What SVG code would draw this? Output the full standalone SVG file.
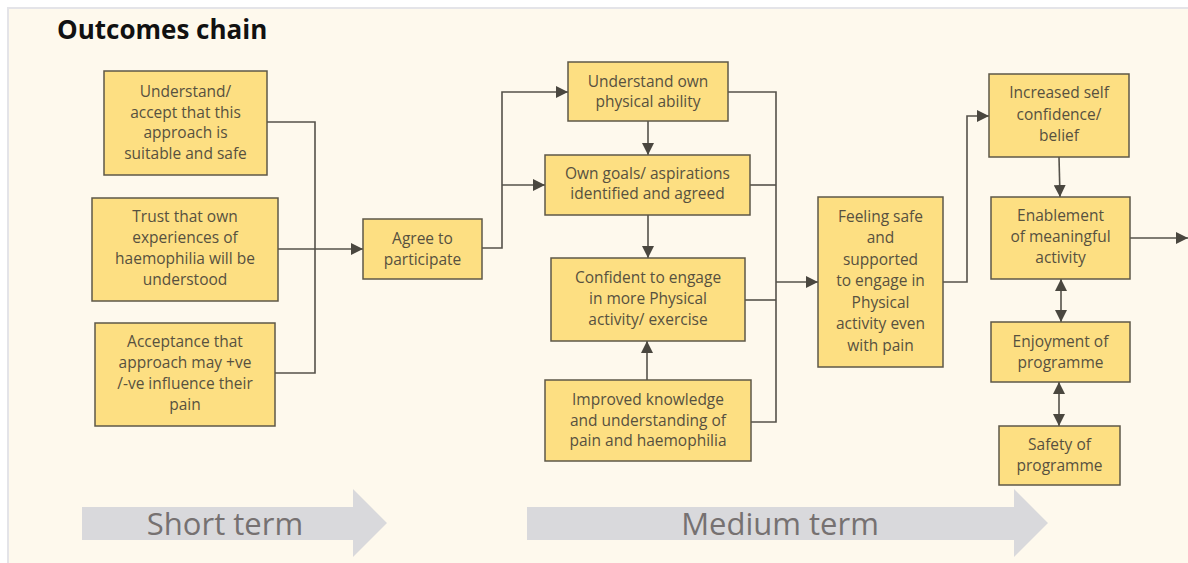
<svg xmlns="http://www.w3.org/2000/svg" width="1188" height="563" viewBox="0 0 1188 563">
  <style>
    .box { fill: #fddf82; stroke: #5e5848; stroke-width: 1.5; }
    .lbl { font-family: "Open Sans", "Liberation Sans", sans-serif; font-size: 15.5px; fill: #57513f; text-anchor: middle; }
    .wire { fill: none; stroke: #55524a; stroke-width: 1.6; }
    .band { fill: #d9d9dc; }
    .band-txt { font-family: "Open Sans", "Liberation Sans", sans-serif; font-size: 31px; fill: #767171; text-anchor: middle; }
    .title { font-family: "Open Sans", "Liberation Sans", sans-serif; font-size: 26px; font-weight: bold; fill: #111; }
  </style>
  <defs>
    <marker id="head" viewBox="0 0 10 10" refX="10" refY="5" markerWidth="12" markerHeight="12" markerUnits="userSpaceOnUse" orient="auto-start-reverse">
      <path d="M0,0 L10,5 L0,10 z" fill="#4a473f"/>
    </marker>
  </defs>

  <!-- background panel -->
  <rect x="0" y="0" width="1188" height="563" fill="#ffffff"/>
  <rect x="8" y="8" width="1190" height="570" fill="#fef9ed" stroke="#e4e4e8" stroke-width="2"/>

  <text class="title" x="57" y="39">Outcomes chain</text>

  <!-- timeline bands -->
  <g id="band-short">
    <path class="band" d="M82,507 H353 V489 L387,523 L353,557 V540 H82 z"/>
    <text class="band-txt" x="225" y="535">Short term</text>
  </g>
  <g id="band-medium">
    <path class="band" d="M527,507 H1014 V489 L1048,523 L1014,557 V540 H527 z"/>
    <text class="band-txt" x="780" y="535">Medium term</text>
  </g>

  <!-- connectors -->
  <g id="connectors">
    <path class="wire" d="M267,122 H315 V373 H275"/>
    <path class="wire" d="M278,249 H363" marker-end="url(#head)"/>
    <path class="wire" d="M482,248 H502 V92 H568" marker-end="url(#head)"/>
    <path class="wire" d="M502,185 H545" marker-end="url(#head)"/>
    <path class="wire" d="M648,121 V155" marker-end="url(#head)"/>
    <path class="wire" d="M648,215 V258" marker-end="url(#head)"/>
    <path class="wire" d="M647,380 V341" marker-end="url(#head)"/>
    <path class="wire" d="M728,92 H776 V422 H751"/>
    <path class="wire" d="M750,185 H776"/>
    <path class="wire" d="M745,300 H776"/>
    <path class="wire" d="M776,282 H818" marker-end="url(#head)"/>
    <path class="wire" d="M943,282 H967 V116 H989" marker-end="url(#head)"/>
    <path class="wire" d="M1059,157 L1060,197" marker-end="url(#head)"/>
    <path class="wire" d="M1130,238 H1188" marker-end="url(#head)"/>
    <path class="wire" d="M1061,279 V322" marker-start="url(#head)" marker-end="url(#head)"/>
    <path class="wire" d="M1059,382 V426" marker-start="url(#head)" marker-end="url(#head)"/>
  </g>

  <!-- short-term outcomes -->
  <g id="understand-accept">
    <rect class="box" x="104" y="71" width="163" height="104"/>
    <text class="lbl" x="185.5" y="97">Understand/</text>
    <text class="lbl" x="185.5" y="118">accept that this</text>
    <text class="lbl" x="185.5" y="138">approach is</text>
    <text class="lbl" x="185.5" y="159">suitable and safe</text>
  </g>
  <g id="trust">
    <rect class="box" x="92" y="198" width="186" height="103"/>
    <text class="lbl" x="185" y="222">Trust that own</text>
    <text class="lbl" x="185" y="243">experiences of</text>
    <text class="lbl" x="185" y="264">haemophilia will be</text>
    <text class="lbl" x="185" y="285">understood</text>
  </g>
  <g id="acceptance">
    <rect class="box" x="95" y="323" width="180" height="103"/>
    <text class="lbl" x="185" y="347">Acceptance that</text>
    <text class="lbl" x="185" y="368">approach may +ve</text>
    <text class="lbl" x="185" y="389">/-ve influence their</text>
    <text class="lbl" x="185" y="410">pain</text>
  </g>
  <g id="agree">
    <rect class="box" x="363" y="219" width="119" height="60"/>
    <text class="lbl" x="422.5" y="244">Agree to</text>
    <text class="lbl" x="422.5" y="265">participate</text>
  </g>

  <!-- medium-term outcomes -->
  <g id="understand-own">
    <rect class="box" x="568" y="62" width="160" height="59"/>
    <text class="lbl" x="648" y="87">Understand own</text>
    <text class="lbl" x="648" y="107">physical ability</text>
  </g>
  <g id="own-goals">
    <rect class="box" x="545" y="155" width="205" height="60"/>
    <text class="lbl" x="647.5" y="179">Own goals/ aspirations</text>
    <text class="lbl" x="647.5" y="199">identified and agreed</text>
  </g>
  <g id="confident">
    <rect class="box" x="551" y="258" width="194" height="83"/>
    <text class="lbl" x="648" y="283">Confident to engage</text>
    <text class="lbl" x="648" y="304">in more Physical</text>
    <text class="lbl" x="648" y="325">activity/ exercise</text>
  </g>
  <g id="improved">
    <rect class="box" x="545" y="380" width="206" height="81"/>
    <text class="lbl" x="648" y="405">Improved knowledge</text>
    <text class="lbl" x="648" y="426">and understanding of</text>
    <text class="lbl" x="648" y="446">pain and haemophilia</text>
  </g>
  <g id="feeling-safe">
    <rect class="box" x="818" y="197" width="125" height="170"/>
    <text class="lbl" x="880.5" y="222">Feeling safe</text>
    <text class="lbl" x="880.5" y="243">and</text>
    <text class="lbl" x="880.5" y="265">supported</text>
    <text class="lbl" x="880.5" y="286">to engage in</text>
    <text class="lbl" x="880.5" y="308">Physical</text>
    <text class="lbl" x="880.5" y="329">activity even</text>
    <text class="lbl" x="880.5" y="351">with pain</text>
  </g>
  <g id="increased-confidence">
    <rect class="box" x="989" y="74" width="140" height="83"/>
    <text class="lbl" x="1059" y="98">Increased self</text>
    <text class="lbl" x="1059" y="120">confidence/</text>
    <text class="lbl" x="1059" y="141">belief</text>
  </g>
  <g id="enablement">
    <rect class="box" x="991" y="197" width="139" height="82"/>
    <text class="lbl" x="1060.5" y="221">Enablement</text>
    <text class="lbl" x="1060.5" y="242">of meaningful</text>
    <text class="lbl" x="1060.5" y="263">activity</text>
  </g>
  <g id="enjoyment">
    <rect class="box" x="991" y="322" width="139" height="60"/>
    <text class="lbl" x="1060.5" y="347">Enjoyment of</text>
    <text class="lbl" x="1060.5" y="368">programme</text>
  </g>
  <g id="safety">
    <rect class="box" x="999" y="426" width="121" height="59"/>
    <text class="lbl" x="1059.5" y="450">Safety of</text>
    <text class="lbl" x="1059.5" y="471">programme</text>
  </g>
</svg>
